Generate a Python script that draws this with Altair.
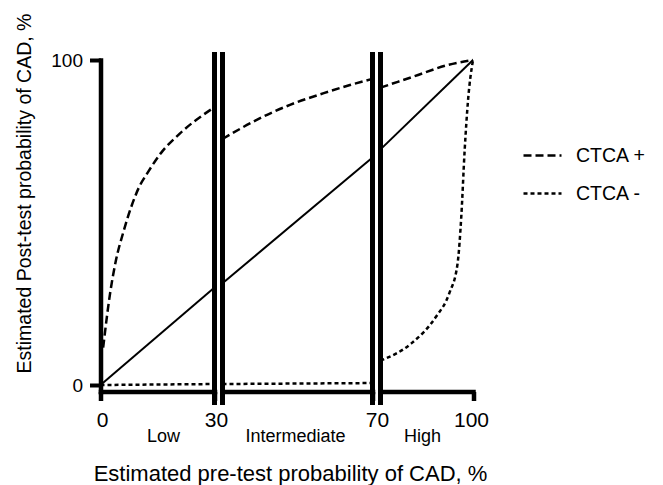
import altair as alt
import pandas as pd

FONT = "Liberation Sans"

# ---- data ----
series_names = ["CTCA +", "CTCA -"]
breaks = [30, 70]

# identity (solid) line, per segment
solid_x_low, solid_y_low = [0, 30], [0, 30]
solid_x_mid, solid_y_mid = [30, 70], [31.3, 70]
solid_x_high, solid_y_high = [70, 100], [72.5, 100]

# CTCA + (dashed)
pos_x_low = [0.7, 2.5, 4, 6, 8, 10, 12.5, 16, 21, 30]
pos_y_low = [11.5, 28, 38, 47, 54.5, 60.5, 65.5, 71.5, 77.5, 85.5]
pos_x_mid = [30, 39, 48, 57, 64, 70]
pos_y_mid = [75.7, 81.5, 86.2, 89.8, 92.3, 94.2]
pos_x_high = [70, 81, 92, 100]
pos_y_high = [91.5, 95, 98.5, 100]

# CTCA - (dotted)
neg_x_low, neg_y_low = [0, 30], [0, 0.3]
neg_x_mid, neg_y_mid = [30, 70], [0.3, 0.6]
neg_x_high = [70, 80, 88, 92.3, 95, 96.2, 97.3, 98.4, 100]
neg_y_high = [7.5, 12.8, 21, 28.2, 37.4, 51.8, 72.3, 87.7, 100]

segments = [
    # name, lo, hi, width, tick values, title x, label offset
    ("Low", 0, 30, 114, [0, 30], 62.5, 1.5,
     (solid_x_low, solid_y_low), (pos_x_low, pos_y_low), (neg_x_low, neg_y_low)),
    ("Intermediate", 30, 70, 150, [70], 72.5, 4.5,
     (solid_x_mid, solid_y_mid), (pos_x_mid, pos_y_mid), (neg_x_mid, neg_y_mid)),
    ("High", 70, 100, 92.5, [100], 41.5, -2,
     (solid_x_high, solid_y_high), (pos_x_high, pos_y_high), (neg_x_high, neg_y_high)),
]

H = 331.5
yscale = alt.Scale(domain=[-2, 100], nice=False, zero=False)
dash_scale = alt.Scale(domain=series_names, range=[[8, 4], [4, 3]])
legend = alt.Legend(
    title=None, orient="none", legendX=421.5, legendY=75,
    symbolType="stroke", symbolSize=1444, symbolStrokeWidth=2.5,
    symbolStrokeColor="black", labelFont=FONT, labelFontSize=19.5,
    labelColor="black", labelOffset=13, rowPadding=8,
)


def panel(i, seg):
    name, lo, hi, width, ticks, title_x, loff, solid, pos, neg = seg
    rows = []
    for x, y in zip(*solid):
        rows.append({"series": "identity", "x": x, "y": y})
    for x, y in zip(*pos):
        rows.append({"series": "CTCA +", "x": x, "y": y})
    for x, y in zip(*neg):
        rows.append({"series": "CTCA -", "x": x, "y": y})
    for b in breaks:
        if lo <= b <= hi:
            rows.append({"series": "break", "x": b, "y": 0})
    df = pd.DataFrame(rows)

    xaxis = alt.Axis(
        values=ticks, title=name, titleX=title_x, titleY=49.5,
        titleBaseline="alphabetic", titleAlign="center", titleFont=FONT,
        titleFontSize=18, titleFontWeight="normal", titleColor="black",
        labelFont=FONT, labelFontSize=21, labelColor="black",
        labelBaseline="alphabetic", labelPadding=26, labelOffset=loff,
        labelFlush=False, labelOverlap=False, format="d",
        tickSize=9, tickWidth=4.5, tickColor="black",
        domainWidth=4.5, domainColor="black", domainCap="square", grid=False,
    )
    if i == 0:
        yaxis = alt.Axis(
            values=[0, 100], title="Estimated Post-test probability of CAD, %",
            titleFont=FONT, titleFontSize=19.5, titleFontWeight="normal",
            titleColor="black", titleAngle=-90, titleX=-70.5, titleY=133,
            titleBaseline="alphabetic", titleAlign="center",
            labelFont=FONT, labelFontSize=19, labelColor="black", labelPadding=7,
            tickSize=11, tickWidth=4, tickColor="black",
            domainWidth=4.5, domainColor="black", domainCap="square", grid=False,
        )
    else:
        yaxis = None

    base = alt.Chart(df).encode(
        x=alt.X("x:Q", scale=alt.Scale(domain=[lo, hi], nice=False, zero=False), axis=xaxis),
        y=alt.Y("y:Q", scale=yscale, axis=yaxis),
    )
    curves = base.transform_filter(
        alt.FieldOneOfPredicate(field="series", oneOf=series_names)
    ).mark_line(color="black", strokeWidth=2.5, interpolate="monotone", clip=False).encode(
        strokeDash=alt.StrokeDash("series:N", scale=dash_scale, legend=legend, sort=series_names)
    )
    solid_line = base.transform_filter(alt.datum.series == "identity").mark_line(
        color="black", strokeWidth=2
    )
    bars = base.transform_filter(alt.datum.series == "break").mark_rule(
        color="black", strokeWidth=5, clip=False
    ).encode(y=alt.value(-8), y2=alt.value(345))
    return alt.layer(solid_line, curves, bars).properties(width=width, height=H)


panels = [panel(i, s) for i, s in enumerate(segments)]

chart = alt.hconcat(*panels, spacing=8, bounds="flush").resolve_scale(
    x="independent", y="independent", strokeDash="shared"
).resolve_legend(strokeDash="shared").properties(
    title=alt.TitleParams(
        "Estimated pre-test probability of CAD, %", orient="bottom", anchor="middle",
        font=FONT, fontSize=22, fontWeight="normal", color="black", dx=-39.5, offset=19,
    ),
    padding={"left": 13.5, "top": 13, "right": 5, "bottom": 0},
).configure(background="white").configure_view(
    strokeWidth=0, stroke="transparent"
).configure_axis(grid=False)

chart.save("out.html", embed_options={"renderer": "svg", "actions": False})
